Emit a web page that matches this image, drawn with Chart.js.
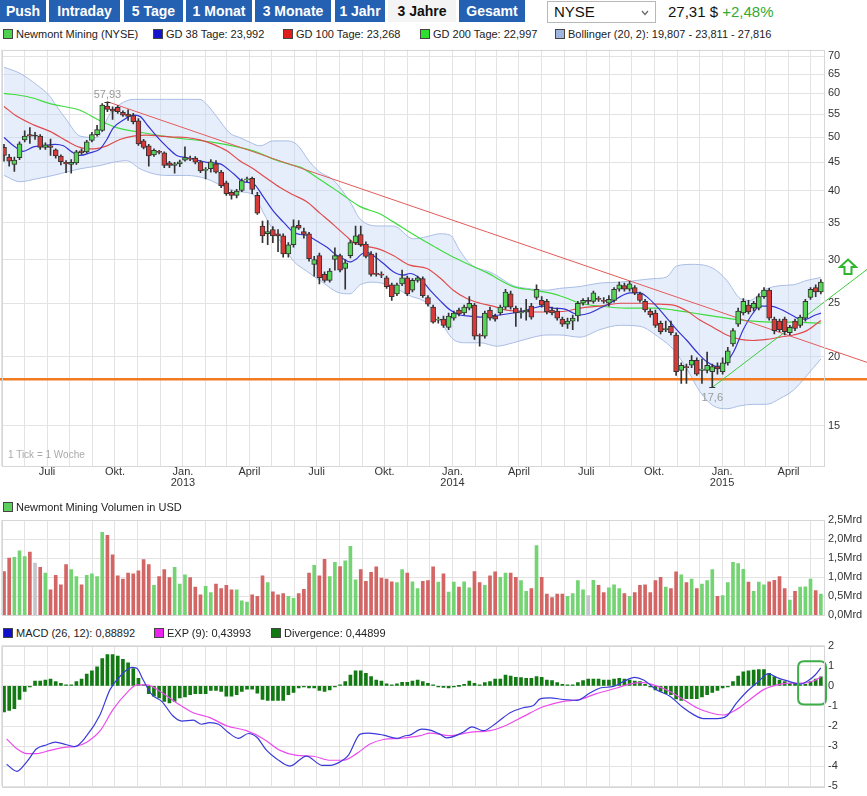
<!DOCTYPE html>
<html><head><meta charset="utf-8">
<script src="https://cdn.jsdelivr.net/npm/chart.js@4.4.1/dist/chart.umd.min.js"></script>
<style>
body{margin:0;background:#fff;font-family:Arial,"Liberation Sans",sans-serif;}
#wrap{position:relative;width:867px;height:796px;overflow:hidden;background:#fff;}
.btn{position:absolute;top:0;height:22px;line-height:22px;background:#2561b2;color:#fff;font-weight:bold;font-size:14px;text-align:center;}
.btn.sel{background:#f4f4f4;color:#111;}
.leg{position:absolute;font-size:11px;color:#222;white-space:nowrap;line-height:12px;}
.leg i{display:inline-block;width:8px;height:8px;border:1px solid #444;margin-right:3px;vertical-align:-1px;}
canvas{position:absolute;left:0;}
</style></head>
<body><div id="wrap">
<div class="btn" style="left:0;width:46px">Push</div>
<div class="btn" style="left:49px;width:71px">Intraday</div>
<div class="btn" style="left:124px;width:59px">5 Tage</div>
<div class="btn" style="left:186px;width:66px">1 Monat</div>
<div class="btn" style="left:255px;width:76px">3 Monate</div>
<div class="btn" style="left:335px;width:50px">1 Jahr</div>
<div class="btn sel" style="left:388px;width:68px">3 Jahre</div>
<div class="btn" style="left:459px;width:66px">Gesamt</div>
<div style="position:absolute;left:547px;top:1px;width:109px;height:22px;border:1px solid #b8b8b8;box-sizing:border-box;font-size:15px;line-height:20px;padding-left:6px;color:#111">NYSE
<svg style="position:absolute;left:93px;top:8px" width="8" height="6" viewBox="0 0 8 6"><polyline points="1,1 4,4.5 7,1" fill="none" stroke="#666" stroke-width="1.2"/></svg></div>
<div style="position:absolute;left:668px;top:3px;font-size:15px;color:#111">27,31 $ <span style="color:#33aa33">+2,48%</span></div>

<div class="leg" style="left:3px;top:28px"><i style="background:#4fd04f"></i>Newmont Mining (NYSE)</div>
<div class="leg" style="left:153px;top:28px"><i style="background:#1414cc"></i>GD 38 Tage: 23,992</div>
<div class="leg" style="left:283px;top:28px"><i style="background:#e01c1c"></i>GD 100 Tage: 23,268</div>
<div class="leg" style="left:420px;top:28px"><i style="background:#2ee02e"></i>GD 200 Tage: 22,997</div>
<div class="leg" style="left:555px;top:28px"><i style="background:#9fb4de"></i>Bollinger (20, 2): 19,807 - 23,811 - 27,816</div>

<canvas id="cMain" width="867" height="452" style="top:40px"></canvas>
<div style="position:absolute;left:8px;top:449px;font-size:10px;color:#aaa">1 Tick = 1 Woche</div>
<svg style="position:absolute;left:838px;top:258px" width="20" height="18" viewBox="0 0 20 18"><path d="M10 1.5 L18 9 L13.5 9 L13.5 16 L6.5 16 L6.5 9 L2 9 Z" fill="#fff" stroke="#2db52d" stroke-width="2"/></svg>

<div class="leg" style="left:3px;top:501px"><i style="background:#5ccf5c"></i>Newmont Mining Volumen in USD</div>
<canvas id="cVol" width="867" height="115" style="top:510px"></canvas>

<div class="leg" style="left:3px;top:627px"><i style="background:#1010cc"></i>MACD (26, 12): 0,88892</div>
<div class="leg" style="left:154px;top:627px"><i style="background:#ee22ee"></i>EXP (9): 0,43993</div>
<div class="leg" style="left:271px;top:627px"><i style="background:#117711"></i>Divergence: 0,44899</div>
<canvas id="cMacd" width="867" height="160" style="top:636px"></canvas>
</div>
<script>
// ---------- weekly candles (one per week, index 0 = early May 2012) ----------
const open = [47.9,46.0,44.6,45.9,49.4,50.5,50.2,50.2,47.9,48.2,
47.4,46.2,45.0,44.6,44.9,47.2,47.0,49.3,50.5,51.4,
56.9,56.2,56.6,55.4,55.0,54.7,53.5,49.2,48.2,46.4,
47.1,46.8,44.9,44.4,44.7,45.4,45.8,45.8,45.1,43.5,
43.8,44.7,43.2,41.3,39.7,39.2,40.0,41.8,42.1,39.2,
34.5,33.4,34.0,33.4,33.1,30.7,31.9,34.6,33.7,33.4,
29.4,30.5,28.2,27.5,30.0,30.5,28.9,30.5,32.2,33.3,
32.0,30.7,28.3,28.2,27.8,27.0,26.0,27.1,27.8,26.4,
27.5,27.7,25.6,24.6,23.3,23.4,22.6,23.5,24.3,24.0,
24.5,24.8,21.9,21.8,24.3,23.7,24.0,24.6,26.0,24.5,
24.0,24.1,24.7,25.6,25.3,25.2,24.3,24.2,23.4,22.9,
23.2,23.7,25.0,25.2,25.2,25.5,25.3,25.0,25.3,26.5,
26.9,26.5,26.7,26.0,25.2,24.2,24.0,23.0,22.4,22.7,
21.9,18.9,19.2,19.3,19.7,18.9,18.9,18.8,19.2,18.8,
19.5,21.1,22.9,24.0,24.8,24.5,24.5,25.7,26.4,23.4,
23.2,23.4,22.1,23.2,22.8,23.5,25.6,26.7,26.2];
const high = [48.5,46.5,46.0,49.0,51.3,52.0,51.0,50.5,48.8,49.6,
47.6,46.4,45.3,45.5,47.3,47.6,49.3,51.0,52.5,57.5,
57.93,56.7,57.0,55.8,56.0,55.2,54.0,49.5,48.5,47.6,
47.3,47.0,45.2,45.0,45.4,48.0,46.2,46.1,45.3,44.0,
45.5,45.3,43.5,41.6,40.0,40.2,42.0,42.3,42.3,39.7,
35.2,35.3,34.4,34.0,33.4,32.2,35.4,35.3,34.2,33.6,
30.4,30.8,28.5,28.9,31.5,30.7,30.0,32.5,34.5,34.5,
32.3,31.0,30.8,28.5,28.0,27.2,27.2,28.7,28.0,27.7,
28.0,27.9,25.8,24.8,23.6,23.7,24.0,24.2,24.5,24.8,
25.7,25.0,22.0,24.2,24.6,23.9,24.8,26.5,26.3,24.7,
24.5,25.4,25.0,27.0,25.7,25.4,24.6,24.5,23.6,23.5,
23.8,25.2,25.5,25.6,26.3,25.7,25.6,25.8,26.7,27.3,
27.2,27.4,26.9,26.2,25.4,24.4,24.3,23.2,23.2,23.2,
22.1,19.5,19.4,20.1,19.9,19.8,20.4,19.4,19.5,19.9,
20.8,22.5,24.5,25.5,25.3,25.2,26.0,26.7,26.6,23.6,
23.4,23.6,22.8,23.4,23.8,25.4,26.7,27.0,27.6];
const low = [45.2,44.3,43.3,45.5,49.0,48.7,49.5,47.5,47.5,46.3,
45.8,44.5,43.1,43.0,44.6,46.5,46.8,49.0,50.2,51.2,
55.6,53.8,55.2,54.5,53.6,52.8,48.3,47.6,44.3,46.1,
46.6,44.0,44.0,43.0,44.2,45.2,45.3,44.7,43.1,42.0,
43.2,43.0,40.5,39.2,38.6,38.8,39.8,41.5,39.5,36.2,
32.2,31.9,32.2,31.0,30.3,30.3,31.6,34.0,32.8,29.8,
28.0,27.1,27.3,27.3,28.7,28.5,26.5,30.2,31.9,31.7,
30.2,28.0,28.0,27.8,26.6,25.3,25.8,26.9,25.8,26.2,
27.3,25.6,24.7,23.0,23.0,22.6,22.4,23.3,23.7,23.8,
24.3,21.5,20.9,21.6,23.3,23.2,23.8,24.4,24.4,22.7,
23.5,23.3,23.4,25.4,24.6,23.9,23.8,23.3,22.7,22.5,
22.4,23.2,24.8,24.9,25.0,25.2,25.0,24.7,25.1,26.3,
26.3,26.3,25.9,25.1,24.1,23.6,22.6,22.0,22.2,21.9,
18.5,17.9,17.9,19.1,18.5,17.9,18.7,17.6,18.6,18.6,
19.3,20.9,22.7,23.8,23.9,24.2,24.3,25.5,23.3,22.0,
22.2,21.9,21.9,22.3,22.6,23.2,25.4,25.7,26.0];
const close = [46.3,45.2,45.4,48.6,50.2,50.2,50.2,47.9,48.4,47.9,
46.2,45.1,44.7,45.0,47.0,46.8,49.0,50.5,51.6,57.1,
56.1,55.7,55.6,54.8,54.5,53.3,48.6,47.9,46.2,47.3,
46.9,44.4,44.4,44.7,45.1,45.9,45.6,45.0,43.4,43.7,
45.1,43.2,40.8,39.5,39.2,39.9,41.7,42.0,40.2,36.4,
33.1,33.7,33.1,33.1,30.7,31.9,34.4,34.2,33.3,30.1,
30.0,27.8,27.5,28.6,30.5,28.7,29.6,32.2,33.1,31.9,
30.4,28.2,28.2,28.1,26.8,25.7,27.0,27.8,26.0,27.5,
27.8,25.8,24.9,23.1,23.4,22.8,23.7,24.0,23.9,24.6,
25.0,21.8,21.8,24.0,23.5,23.4,24.6,26.2,24.6,24.0,
24.1,24.3,23.6,26.5,24.8,24.1,24.0,23.5,22.9,23.2,
23.5,25.0,25.3,25.2,26.1,25.4,25.2,25.4,26.5,27.0,
26.5,27.1,26.1,25.3,24.3,23.8,22.8,22.2,22.5,22.1,
18.8,19.3,19.1,19.7,18.6,19.0,19.3,19.2,19.0,19.5,
20.5,22.3,24.2,25.2,24.1,25.0,25.7,26.4,23.5,22.3,
22.4,22.2,22.6,22.5,23.6,25.2,26.5,26.2,27.31];

// ---------- weekly volume in billions USD ----------
const volumeMrd = [1.15,1.50,1.52,1.69,1.54,1.66,1.37,1.26,1.11,0.67,
1.05,0.80,1.33,1.20,1.02,0.80,1.05,1.09,1.02,2.18,
2.10,1.59,1.04,0.95,1.11,1.09,1.17,1.46,1.33,0.79,
1.02,1.20,0.99,1.26,0.82,1.06,0.99,0.74,0.54,0.76,
0.60,0.82,0.70,0.79,0.67,0.67,0.38,0.35,0.54,0.50,
1.04,0.86,0.62,0.54,0.57,0.50,0.45,0.57,0.68,1.11,
1.31,1.04,1.47,1.02,1.39,1.28,1.43,1.81,0.93,1.20,
0.89,1.13,1.27,0.98,0.95,0.88,0.86,1.20,1.11,0.88,
0.70,0.89,0.91,1.27,0.87,1.09,0.61,0.87,0.74,0.88,
0.72,1.15,0.86,0.79,1.04,1.14,1.00,1.11,1.11,1.00,
0.91,0.63,0.70,1.83,1.00,0.56,0.47,0.56,0.56,0.50,
0.57,0.91,0.67,0.52,0.92,0.79,0.60,0.72,0.80,0.70,
0.57,0.50,0.60,0.79,0.80,0.60,0.91,1.00,0.74,0.70,
1.14,1.06,0.86,0.95,0.70,0.82,0.91,1.20,0.50,0.52,
0.86,1.39,1.36,1.21,0.87,0.63,0.87,0.80,0.88,0.92,
1.02,0.70,0.40,0.63,0.74,0.75,0.95,0.65,0.56];

// ---------- MACD divergence (weekly) ----------
const divergence = [-1.30,-1.22,-1.14,-0.68,-0.28,-0.03,0.24,0.24,0.29,0.33,
0.21,0.13,0.02,0.02,0.21,0.33,0.59,0.75,0.95,1.35,
1.55,1.55,1.48,1.32,1.14,0.86,0.37,0.05,-0.39,-0.52,
-0.60,-0.77,-0.85,-0.77,-0.60,-0.55,-0.44,-0.39,-0.39,-0.39,
-0.23,-0.23,-0.28,-0.52,-0.52,-0.44,-0.28,-0.16,-0.16,-0.36,
-0.68,-0.73,-0.73,-0.73,-0.73,-0.44,-0.33,-0.11,-0.03,-0.11,
-0.11,-0.23,-0.28,-0.20,-0.03,0.05,0.21,0.54,0.75,0.75,
0.62,0.46,0.29,0.24,0.10,0.05,0.10,0.18,0.18,0.24,
0.29,0.21,0.13,0.05,-0.03,-0.08,-0.11,-0.03,0.0,0.08,
0.24,0.13,0.05,0.16,0.21,0.33,0.33,0.54,0.49,0.42,
0.41,0.37,0.37,0.46,0.42,0.29,0.26,0.16,0.08,0.05,
0.05,0.16,0.26,0.33,0.34,0.33,0.29,0.29,0.33,0.37,
0.34,0.29,0.24,0.21,0.08,-0.03,-0.20,-0.28,-0.39,-0.44,
-0.65,-0.72,-0.64,-0.64,-0.64,-0.55,-0.44,-0.33,-0.23,-0.11,
-0.03,0.21,0.49,0.70,0.75,0.78,0.81,0.81,0.62,0.46,
0.29,0.21,0.13,0.13,0.05,0.08,0.21,0.33,0.45];

// ---------- indicator lines: [week index, value] ----------
const gd38 = [[0,49.9],[2.1,48.0],[3.7,47.1],[5.7,48.0],[7.6,48.2],[9.9,48.5],[11.5,48.2],[13.1,47.0],[14.7,46.3],[16.6,46.8],[18.6,47.6],[19.9,49.5],[21.1,51.9],[23.1,53.7],[25.0,54.8],[26.3,54.5],[27.9,52.3],[29.5,50.2],[31.5,48.0],[33.4,46.3],[35.3,45.9],[36.6,45.6],[39.2,45.0],[41.8,44.7],[44.4,42.9],[46.3,41.5],[48.2,41.2],[50.2,38.9],[52.1,36.7],[54.0,35.1],[56.0,33.6],[57.3,33.3],[58.5,33.2],[60.5,32.4],[62.4,31.6],[64.4,30.5],[65.6,30.1],[66.9,29.7],[68.2,30.1],[69.2,30.7],[70.2,30.9],[71.4,30.5],[73.4,29.5],[75.3,28.5],[77.2,28.1],[78.5,28.3],[80.5,27.7],[82.4,26.4],[84.3,25.3],[86.3,24.3],[88.2,23.8],[90.1,23.7],[92.1,23.6],[94.0,23.7],[95.9,23.8],[98.5,24.0],[100.4,24.2],[102.4,24.5],[104.3,24.7],[106.2,24.5],[108.5,24.4],[110.1,24.0],[111.4,23.8],[113.3,24.0],[115.3,24.5],[117.2,25.0],[119.2,25.7],[121.1,26.1],[123.0,26.1],[124.3,25.7],[126.2,24.7],[128.2,23.5],[130.1,22.4],[132.1,21.4],[134.0,20.4],[135.9,19.6],[137.9,19.2],[139.1,19.3],[141.1,20.4],[143.0,22.4],[144.9,24.0],[146.2,24.7],[148.2,24.7],[150.1,24.4],[152.7,23.7],[154.0,23.4],[155.3,23.4],[156.5,23.7],[158,23.99]];
const gd100 = [[0,56.8],[2.5,54.5],[5.7,52.6],[8.9,51.2],[12.1,49.2],[14.7,47.9],[17.3,47.6],[19.9,48.2],[22.4,49.5],[25,50.2],[27.6,50.4],[30.2,50.2],[32.7,50.0],[35.3,49.9],[37.9,49.4],[40.5,48.5],[43.1,47.2],[45.6,45.3],[48.2,43.8],[50.8,42.1],[53.4,40.5],[55.9,39.3],[58.5,38.2],[61.1,36.4],[63.7,34.7],[66.3,33.0],[67.6,32.2],[70.2,31.7],[72.7,31.3],[75.3,30.5],[78.5,29.3],[81.8,28.9],[84.3,27.8],[86.9,26.4],[89.5,25.5],[92.1,25.0],[94.6,24.7],[97.2,24.3],[99.8,24.2],[102.4,24.1],[105,24.1],[108.8,24.2],[111.4,24.5],[115.3,24.7],[119.2,25.0],[123,25.0],[126.9,24.9],[129.5,24.8],[132.1,24.2],[134.6,23.3],[137.2,22.6],[139.8,21.9],[142.4,21.5],[144.9,21.4],[147.5,21.5],[150.1,21.7],[152.7,21.9],[155.3,22.3],[158,23.27]];
const gd200 = [[0,60.0],[4.4,59.2],[9.5,57.3],[14.7,55.9],[18.6,53.5],[21.8,52.0],[26.9,50.9],[32.7,49.9],[40.5,48.9],[48.2,47.2],[52.1,45.6],[55.3,44.6],[57.3,44.1],[61.1,41.9],[65.0,39.6],[68.9,37.4],[72.7,36.3],[75.3,35.1],[79.2,33.3],[83.1,31.7],[86.3,30.5],[89.5,29.5],[93.4,28.4],[98.5,26.8],[102.4,26.4],[105.5,26.1],[108.5,25.6],[111.4,25.0],[115.3,24.7],[120.4,24.5],[125.6,24.5],[129.5,24.3],[133.3,24.0],[137.2,23.7],[141.1,23.4],[144.9,23.2],[148.8,23.1],[152.7,23.1],[158,23.0]];
const bollUpper = [[0,66.9],[3.1,65.2],[6.3,62.2],[8.9,59.2],[10.2,56.8],[12.1,53.7],[14.7,50.2],[17.9,49.9],[20.5,55.1],[22.4,57.3],[25.0,58.5],[28.2,58.5],[31.5,58.5],[35.3,58.5],[37.9,58.5],[39.2,57.3],[41.1,54.5],[43.7,50.8],[45.6,49.9],[47.6,48.9],[49.5,48.2],[52.1,49.2],[54.7,49.2],[56.6,48.5],[59.2,45.0],[61.1,43.2],[63.7,41.8],[66.9,38.2],[68.9,35.5],[72.7,34.5],[75.3,34.5],[79.2,32.7],[81.8,33.0],[84.3,33.4],[86.3,33.2],[88.2,31.1],[90.1,29.5],[94.6,28.3],[98.5,26.9],[101.1,26.6],[104.9,26.4],[107.5,26.6],[111.4,26.8],[115.3,27.2],[119.2,27.3],[122.4,27.5],[125.6,27.7],[128.2,27.9],[130.1,29.2],[133.3,29.4],[137.2,28.9],[139.8,27.5],[142.4,25.5],[144.3,25.3],[146.9,26.4],[150.1,26.9],[152.7,27.0],[155.3,27.5],[158,27.82]];
const bollLower = [[0,42.6],[3.1,41.5],[6.3,42.0],[9.5,42.6],[12.1,43.2],[14.7,43.8],[18.6,44.4],[21.1,45.0],[23.7,45.3],[26.3,43.8],[28.9,42.9],[31.5,42.6],[35.3,42.6],[39.2,42.0],[43.1,40.4],[45.6,39.8],[48.2,39.3],[50.2,36.4],[52.1,33.8],[54.0,31.8],[56.0,29.8],[58.5,28.6],[61.8,27.2],[64.4,26.2],[66.9,26.0],[68.9,27.0],[71.4,27.3],[74.7,26.9],[78.5,25.8],[81.8,25.0],[84.3,23.3],[86.9,21.5],[89.5,21.2],[92.1,21.2],[95.3,20.9],[98.5,21.2],[102.4,21.7],[105,21.9],[107.5,21.9],[111.4,21.7],[115.3,22.4],[119.2,22.8],[123,22.7],[126.9,21.6],[129.5,20.6],[132.1,19.0],[134.6,17.3],[137.2,16.3],[139.8,16.1],[142.4,16.3],[144.9,16.4],[147.5,16.4],[150.1,16.8],[152.7,17.4],[155.3,18.5],[158,19.81]];
const macdLine = [[0.5,-3.9],[2.5,-4.25],[4.4,-3.78],[6.3,-3.13],[8.3,-2.93],[9.9,-2.80],[12.1,-2.93],[13.7,-3.02],[16.0,-2.48],[18.6,-1.42],[20.5,-0.19],[22.4,0.46],[24.7,0.92],[25.7,0.87],[26.9,0.30],[28.6,-0.44],[30.5,-0.77],[32.7,-1.50],[34.4,-1.75],[36.6,-1.71],[38.2,-1.91],[39.8,-1.83],[41.5,-1.91],[43.4,-2.32],[45.3,-2.61],[47.3,-2.37],[48.9,-2.56],[50.8,-3.21],[52.7,-3.62],[55.3,-3.99],[58.5,-3.49],[61.5,-3.95],[63.1,-3.95],[65.0,-3.78],[66.6,-3.46],[68.9,-2.40],[70.5,-2.35],[73.4,-2.45],[76.0,-2.61],[77.6,-2.48],[78.5,-2.45],[80.8,-2.15],[82.4,-2.20],[84.3,-2.40],[85.6,-2.59],[88.8,-2.31],[90.5,-2.04],[92.7,-2.23],[95.3,-1.83],[97.9,-1.34],[100.4,-1.09],[102.4,-0.98],[103.7,-0.65],[105.6,-0.60],[108.2,-0.68],[110.8,-0.72],[113.3,-0.36],[115.3,-0.11],[117.9,-0.03],[119.8,0.21],[122.0,0.42],[123.7,0.29],[126.2,-0.19],[128.8,-0.52],[131.4,-1.09],[133.3,-1.42],[135.3,-1.63],[137.9,-1.63],[139.8,-1.50],[141.7,-0.85],[143.7,-0.28],[145.9,0.21],[147.8,0.59],[149.8,0.38],[152.0,0.21],[154.0,0.08],[155.3,0.21],[156.9,0.54],[158,0.889]];
const expLine = [[0.5,-2.64],[2.5,-3.13],[4.4,-3.37],[6.3,-3.37],[8.9,-3.21],[12.1,-3.05],[13.7,-3.02],[16.0,-2.80],[18.6,-2.23],[21.1,-1.17],[23.7,-0.36],[25.7,0.05],[27.6,0.05],[30.2,-0.28],[33.4,-0.85],[36.6,-1.34],[39.8,-1.58],[43.1,-1.99],[46.9,-2.23],[50.2,-2.64],[53.4,-3.21],[56.6,-3.46],[59.8,-3.50],[63.1,-3.70],[65.6,-3.70],[68.2,-3.37],[70.8,-2.89],[73.4,-2.67],[76.6,-2.61],[80.5,-2.48],[82.4,-2.35],[86.3,-2.48],[90.1,-2.31],[94.0,-2.23],[96.6,-2.02],[100.4,-1.53],[104.3,-1.04],[108.2,-0.77],[111.4,-0.68],[114.6,-0.39],[118.5,-0.11],[121.1,0.10],[123.7,0.16],[126.2,0.00],[128.8,-0.28],[131.4,-0.68],[134.0,-1.09],[136.6,-1.34],[139.1,-1.45],[141.7,-1.17],[144.3,-0.68],[146.9,-0.19],[149.5,0.05],[152.0,0.13],[154.6,0.13],[156.5,0.24],[158,0.44]];

// trend lines and support level (week index, price)
const trendDown = [[20,57.93],[168,19.38]];
const trendUp = [[137,17.6],[168,29.3]];
const supportLevel = 18.2;
const extremes = [{week:20, value:57.93, text:'57,93', above:true},{week:137, value:17.6, text:'17,6', above:false}];
const macdHighlight = {from:153.6, to:159.0, top:1.22, bottom:-0.93};

// ---------- axes ----------
const priceTicks = [15,20,25,30,35,40,45,50,55,60,65,70];
const priceRange = [12.68, 72.0];
const volumeTicks = [0,0.5,1.0,1.5,2.0,2.5];
const macdTicks = [-5,-4,-3,-2,-1,0,1,2];
const monthLabels = ['Jan.','','','April','','','Juli','','','Okt.','',''];
const weekRange = [-0.39, 158.8];
const refDate = Date.UTC(2012,6,1), refWeek = 8.32; // 1 Jul 2012 sits at week 8.32

const monthTicks = [];
for (let k = 0; k < 37; k++) {
  const y = 2012 + Math.floor((4 + k) / 12), m = (4 + k) % 12;
  const pos = refWeek + (Date.UTC(y, m, 1) - refDate) / (7 * 864e5);
  let label = monthLabels[m];
  if (m === 0) label = [label, String(y)];
  monthTicks.push({pos, label});
}

Chart.defaults.font.family = 'Arial, "Liberation Sans", sans-serif';
Chart.defaults.font.size = 11;
Chart.defaults.color = '#333';

const idx = close.map((_, i) => i);
const dir = idx.map(i => close[i] > open[i] ? 1 : close[i] < open[i] ? -1 : 0);
const candleFill = dir.map(d => d > 0 ? '#55d455' : d < 0 ? '#d83a3a' : '#333');
const volFill = dir.map(d => d > 0 ? '#74d474' : d < 0 ? '#d46565' : '#c4c4cc');
const pts = a => a.map(([x, y]) => ({x, y}));
const GRID = '#e3e3e3';

function xAxis(showLabels, h) {
  return {
    type: 'linear', min: weekRange[0], max: weekRange[1], offset: false,
    grid: {color: GRID, drawTicks: false, offset: false}, border: {display: false},
    afterBuildTicks: a => { a.ticks = monthTicks.map(t => ({value: t.pos})); },
    ticks: {display: showLabels, autoSkip: false, maxRotation: 0, minRotation: 0, padding: 1,
      font: {size: 11, lineHeight: 0.95}, color: '#333',
      callback: (v, i) => monthTicks[i] ? monthTicks[i].label : ''},
    afterFit: s => { s.height = h; }
  };
}
function yAxis(extra) {
  return Object.assign({
    position: 'right', grid: {color: GRID, drawTicks: false}, border: {display: false},
    afterFit: s => { s.width = 42; }
  }, extra);
}
const frame = {id: 'frame', afterDraw(c) {
  const a = c.chartArea, ctx = c.ctx; ctx.save(); ctx.strokeStyle = '#d6d6d6'; ctx.lineWidth = 1;
  ctx.strokeRect(Math.round(a.left) + 0.5, Math.round(a.top) + 0.5, Math.round(a.right - a.left) - 1, Math.round(a.bottom - a.top)); ctx.restore();
}};
const marks = {id: 'marks', afterDatasetsDraw(c) {
  const {ctx, scales: {x, y}} = c; ctx.save();
  ctx.font = '11px Arial, "Liberation Sans", sans-serif'; ctx.textAlign = 'center';
  for (const m of extremes) {
    const px = x.getPixelForValue(m.week), py = Math.round(y.getPixelForValue(m.value));
    ctx.strokeStyle = '#333'; ctx.lineWidth = 1; ctx.beginPath();
    ctx.moveTo(px - 3, py + 0.5); ctx.lineTo(px + 3, py + 0.5); ctx.stroke();
    ctx.fillStyle = '#9a9a9a';
    if (m.above) { ctx.textBaseline = 'bottom'; ctx.fillText(m.text, px, py - 2); }
    else { ctx.textBaseline = 'top'; ctx.fillText(m.text, px, py + 5); }
  }
  ctx.restore();
}};
const highlight = {id: 'highlight', afterDatasetsDraw(c) {
  const {ctx, scales: {x, y}} = c, h = macdHighlight;
  const l = x.getPixelForValue(h.from), r = x.getPixelForValue(h.to);
  const t = y.getPixelForValue(h.top), b = y.getPixelForValue(h.bottom), rad = 6;
  ctx.save(); ctx.strokeStyle = '#3cae48'; ctx.lineWidth = 2; ctx.beginPath();
  ctx.moveTo(l + rad, t); ctx.lineTo(r - rad, t); ctx.quadraticCurveTo(r, t, r, t + rad);
  ctx.lineTo(r, b - rad); ctx.quadraticCurveTo(r, b, r - rad, b); ctx.lineTo(l + rad, b);
  ctx.quadraticCurveTo(l, b, l, b - rad); ctx.lineTo(l, t + rad); ctx.quadraticCurveTo(l, t, l + rad, t);
  ctx.stroke(); ctx.restore();
}};
const common = {responsive: false, animation: false, events: [],
  plugins: {legend: {display: false}, tooltip: {enabled: false}}};
const lineDs = (data, color, w, order, extra) => Object.assign({type: 'line', data: pts(data), borderColor: color,
  borderWidth: w, pointRadius: 0, fill: false, cubicInterpolationMode: 'monotone', order}, extra || {});

new Chart(document.getElementById('cMain'), {
  type: 'bar',
  data: {datasets: [
    lineDs(bollUpper, '#a9bde4', 1, 20, {fill: '+1', backgroundColor: 'rgba(197,215,245,0.42)'}),
    lineDs(bollLower, '#a9bde4', 1, 19),
    lineDs(gd200, '#3fdc3f', 1.2, 18),
    lineDs(gd100, '#e04c4c', 1.2, 17),
    lineDs(gd38, '#3535d2', 1.2, 16),
    lineDs([[-5, supportLevel], [175, supportLevel]], '#f27a22', 2.5, 15, {clip: false}),
    lineDs(trendDown, '#e45a5a', 1, 14, {clip: false}),
    lineDs(trendUp, '#3ccc3c', 1, 13, {clip: false}),
    {type: 'bar', data: idx.map(i => ({x: i, y: [low[i], high[i]]})), backgroundColor: '#333',
      barThickness: 1, grouped: false, order: 2},
    {type: 'bar', data: idx.map(i => ({x: i, y: [open[i], close[i]]})), backgroundColor: candleFill,
      borderColor: '#333', borderWidth: 1, borderSkipped: false, barThickness: 5, minBarLength: 1,
      grouped: false, order: 1}
  ]},
  options: Object.assign({}, common, {
    layout: {padding: {left: 2, top: 2, right: 0, bottom: 0}},
    scales: {
      x: xAxis(true, 26),
      y: yAxis({type: 'logarithmic', min: priceRange[0], max: priceRange[1],
        afterBuildTicks: a => { a.ticks = priceTicks.map(v => ({value: v})); },
        ticks: {padding: 3, color: '#333', callback: v => String(v)}})
    }
  }),
  plugins: [frame, marks]
});

new Chart(document.getElementById('cVol'), {
  type: 'bar',
  data: {datasets: [{data: idx.map(i => ({x: i, y: volumeMrd[i]})), backgroundColor: volFill,
    barThickness: 3, grouped: false}]},
  options: Object.assign({}, common, {
    layout: {padding: {left: 2, top: 10, right: 0, bottom: 0}},
    scales: {
      x: xAxis(false, 9),
      y: yAxis({type: 'linear', min: 0, max: 2.5,
        afterBuildTicks: a => { a.ticks = volumeTicks.map(v => ({value: v})); },
        ticks: {padding: 3, color: '#333', callback: v => v.toFixed(1).replace('.', ',') + 'Mrd'}})
    }
  }),
  plugins: [frame]
});

new Chart(document.getElementById('cMacd'), {
  type: 'bar',
  data: {datasets: [
    {type: 'bar', data: idx.map(i => ({x: i, y: divergence[i]})), backgroundColor: '#137a13',
      barThickness: 3, minBarLength: 1, grouped: false, order: 3},
    lineDs(expLine, '#ec4cec', 1.2, 2),
    lineDs(macdLine, '#3a3ad8', 1.2, 1)
  ]},
  options: Object.assign({}, common, {
    layout: {padding: {left: 2, top: 9, right: 0, bottom: 0}},
    scales: {
      x: xAxis(false, 8),
      y: yAxis({type: 'linear', min: -5, max: 2,
        afterBuildTicks: a => { a.ticks = macdTicks.map(v => ({value: v})); },
        ticks: {padding: 3, color: '#333', callback: v => String(v)}})
    }
  }),
  plugins: [frame, highlight]
});
</script>
</body></html>
